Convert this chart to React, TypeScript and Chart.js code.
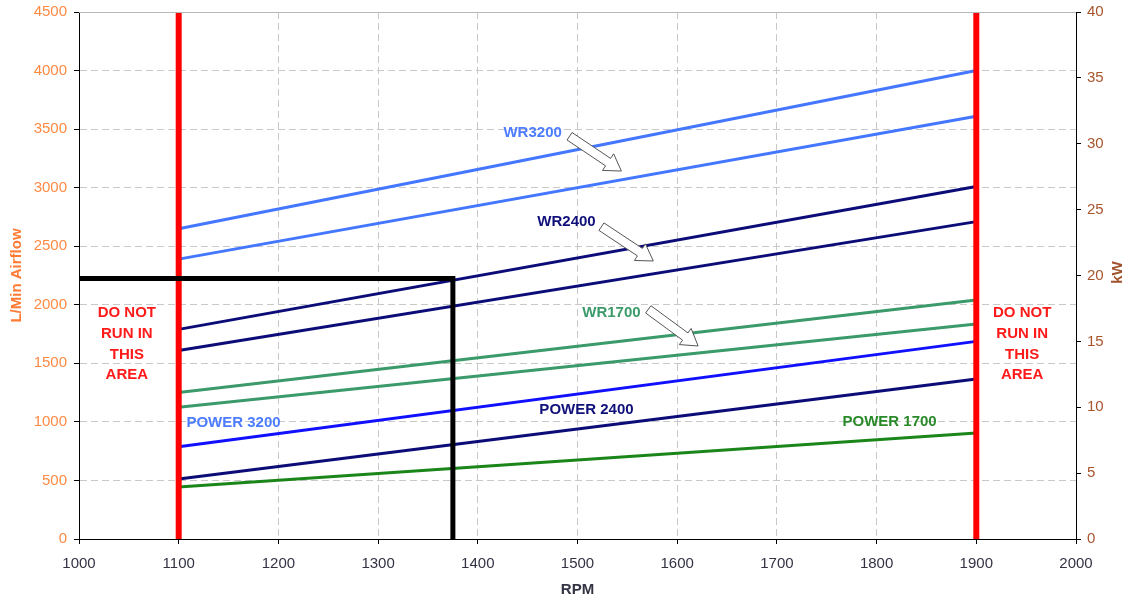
import React, { useEffect, useRef } from "react";
import { Chart, registerables } from "chart.js";

Chart.register(...registerables);

// RPM end points of the measured lines
const rpm = [1100, 1900];

// Airflow (L/min), left axis
const wr3200Upper = [2650, 4000];
const wr3200Lower = [2390, 3610];
const wr2400Upper = [1790, 3010];
const wr2400Lower = [1610, 2710];
const wr1700Upper = [1250, 2040];
const wr1700Lower = [1125, 1835];

// Power (kW), right axis
const power3200 = [7.0, 15.0];
const power2400 = [4.55, 12.15];
const power1700 = [3.95, 8.05];

// Operating point marker
const markerRpm = [1000, 1375, 1375];
const markerAirflow = [2225, 2225, 0];

// Limits
const limitRpm = [1100, 1900];
const limitAirflow = [0, 4500];

const FONT = "'Liberation Sans', Arial, sans-serif";

const pts = (xs: number[], ys: number[]) => xs.map((x, i) => ({ x, y: ys[i] }));

type Label = { text: string; x: number; y: number; color: string };
const labels: Label[] = [
  { text: "WR3200", x: 1455, y: 3469, color: "#4d7cff" },
  { text: "WR2400", x: 1489, y: 2704, color: "#10107a" },
  { text: "WR1700", x: 1534, y: 1927, color: "#3a9a6a" },
  { text: "POWER 3200", x: 1155, y: 993, color: "#4d7cff" },
  { text: "POWER 2400", x: 1509, y: 1101, color: "#10107a" },
  { text: "POWER 1700", x: 1813, y: 996, color: "#2a8a2a" },
];

type Arrow = { x1: number; y1: number; x2: number; y2: number };
const arrows: Arrow[] = [
  { x1: 1492, y1: 3439, x2: 1544, y2: 3142 },
  { x1: 1524, y1: 2667, x2: 1576, y2: 2374 },
  { x1: 1571, y1: 1961, x2: 1621, y2: 1648 },
];

const warnLines = ["DO NOT", "RUN IN", "THIS", "AREA"];
const warnRpm = [1048, 1946];

const overlay = {
  id: "overlay",
  afterDraw(chart: any) {
    const { ctx, chartArea } = chart;
    const xs = chart.scales.x;
    const ys = chart.scales.y;
    ctx.save();
    // top border of plot
    ctx.strokeStyle = "#b8b8b8";
    ctx.lineWidth = 1;
    ctx.beginPath();
    ctx.moveTo(chartArea.left, chartArea.top + 0.5);
    ctx.lineTo(chartArea.right, chartArea.top + 0.5);
    ctx.stroke();

    // arrows
    for (const a of arrows) {
      const px1 = xs.getPixelForValue(a.x1);
      const py1 = ys.getPixelForValue(a.y1);
      const px2 = xs.getPixelForValue(a.x2);
      const py2 = ys.getPixelForValue(a.y2);
      const dx = px2 - px1;
      const dy = py2 - py1;
      const len = Math.hypot(dx, dy);
      const ux = dx / len;
      const uy = dy / len;
      const nx = -uy;
      const ny = ux;
      const sw = 4.5;
      const hw = 10;
      const hl = 16;
      const bx = px2 - ux * hl;
      const by = py2 - uy * hl;
      ctx.beginPath();
      ctx.moveTo(px1 + nx * sw, py1 + ny * sw);
      ctx.lineTo(bx + nx * sw, by + ny * sw);
      ctx.lineTo(bx + nx * hw, by + ny * hw);
      ctx.lineTo(px2, py2);
      ctx.lineTo(bx - nx * hw, by - ny * hw);
      ctx.lineTo(bx - nx * sw, by - ny * sw);
      ctx.lineTo(px1 - nx * sw, py1 - ny * sw);
      ctx.closePath();
      ctx.fillStyle = "#ffffff";
      ctx.fill();
      ctx.strokeStyle = "#555555";
      ctx.lineWidth = 1;
      ctx.stroke();
    }

    ctx.textAlign = "center";
    ctx.textBaseline = "middle";
    ctx.font = `bold 15px ${FONT}`;
    for (const l of labels) {
      ctx.fillStyle = l.color;
      ctx.fillText(l.text, xs.getPixelForValue(l.x), ys.getPixelForValue(l.y));
    }

    ctx.fillStyle = "#ff1a1a";
    for (const r of warnRpm) {
      const cx = xs.getPixelForValue(r);
      warnLines.forEach((t, i) => {
        ctx.fillText(t, cx, 313 + i * 20.7);
      });
    }

    // right axis title
    ctx.save();
    ctx.translate(1118, chartArea.top + (chartArea.bottom - chartArea.top) / 2 - 3);
    ctx.rotate(-Math.PI / 2);
    ctx.fillStyle = "#a0522d";
    ctx.font = `bold 15px ${FONT}`;
    ctx.fillText("kW", 0, 0);
    ctx.restore();
    ctx.restore();
  },
};

const plain = (v: any) => String(v);

const zeroVPad = (s: any, w: number) => {
  s.width = w;
  s.paddingTop = 0;
  s.paddingBottom = 0;
};

export default function App() {
  const ref = useRef<HTMLCanvasElement | null>(null);
  useEffect(() => {
    if (!ref.current) return;
    const lineDs = (label: string, xs: number[], ys: number[], color: string, axis: string, width = 3, order = 3) => ({
      label,
      data: pts(xs, ys),
      borderColor: color,
      backgroundColor: color,
      borderWidth: width,
      pointRadius: 0,
      fill: false,
      tension: 0,
      yAxisID: axis,
      order,
    });
    const chart = new Chart(ref.current, {
      type: "line",
      data: {
        datasets: [
          lineDs("WR3200 a", rpm, wr3200Upper, "#4477ff", "y"),
          lineDs("WR3200 b", rpm, wr3200Lower, "#4477ff", "y"),
          lineDs("WR2400 a", rpm, wr2400Upper, "#0c0c78", "y"),
          lineDs("WR2400 b", rpm, wr2400Lower, "#0c0c78", "y"),
          lineDs("WR1700 a", rpm, wr1700Upper, "#3a9a6a", "y"),
          lineDs("WR1700 b", rpm, wr1700Lower, "#3a9a6a", "y"),
          lineDs("POWER 3200", rpm, power3200, "#1010ff", "y1"),
          lineDs("POWER 2400", rpm, power2400, "#0c0c78", "y1"),
          lineDs("POWER 1700", rpm, power1700, "#1a861a", "y1"),
          lineDs("limit low", [limitRpm[0], limitRpm[0]], limitAirflow, "#ff0000", "y", 6, 2),
          lineDs("limit high", [limitRpm[1], limitRpm[1]], limitAirflow, "#ff0000", "y", 6, 2),
          lineDs("marker", markerRpm, markerAirflow, "#000000", "y", 5, 1),
        ],
      },
      options: {
        animation: false,
        responsive: false,
        devicePixelRatio: 1,
        layout: { padding: { top: 12, left: 0, right: 0, bottom: 0 } },
        plugins: { legend: { display: false }, tooltip: { enabled: false } },
        scales: {
          x: {
            type: "linear",
            min: 1000,
            max: 2000,
            ticks: { stepSize: 100, color: "#333344", font: { size: 15, family: FONT }, padding: 11, maxRotation: 0, callback: plain },
            grid: { color: "#c8c8c8", tickColor: "#000000", tickLength: 5, tickBorderDash: [] },
            border: { color: "#000000", width: 1, dash: [7, 4] },
            title: {
              display: true,
              text: "RPM",
              color: "#333344",
              font: { size: 15, weight: "bold", family: FONT },
              padding: { top: 0, bottom: 1 },
            },
            afterFit: (s: any) => {
              s.height = 61;
              s.paddingLeft = 0;
              s.paddingRight = 0;
            },
          },
          y: {
            type: "linear",
            position: "left",
            min: 0,
            max: 4500,
            ticks: { stepSize: 500, color: "#ff8a45", font: { size: 15, family: FONT }, padding: 7, callback: plain },
            grid: { color: "#c8c8c8", tickColor: "#000000", tickLength: 5, tickBorderDash: [] },
            border: { color: "#000000", width: 1, dash: [7, 4] },
            title: {
              display: true,
              text: "L/Min Airflow",
              color: "#ff7a33",
              font: { size: 15, weight: "bold", family: FONT },
              padding: { top: 8, bottom: 0 },
            },
            afterFit: (s: any) => zeroVPad(s, 79),
          },
          y1: {
            type: "linear",
            position: "right",
            min: 0,
            max: 40,
            ticks: { stepSize: 5, color: "#a8552d", font: { size: 15, family: FONT }, padding: 6, callback: plain },
            grid: { drawOnChartArea: false, tickColor: "#000000", tickLength: 5, tickBorderDash: [] },
            border: { color: "#000000", width: 1 },
            afterFit: (s: any) => zeroVPad(s, 55),
          },
        },
      },
      plugins: [overlay],
    } as any);
    return () => chart.destroy();
  }, []);
  return (
    <div style={{ position: "absolute", left: 0, top: 0, width: 1131, height: 600, background: "#ffffff" }}>
      <canvas ref={ref} width={1131} height={600} style={{ display: "block" }} />
    </div>
  );
}
